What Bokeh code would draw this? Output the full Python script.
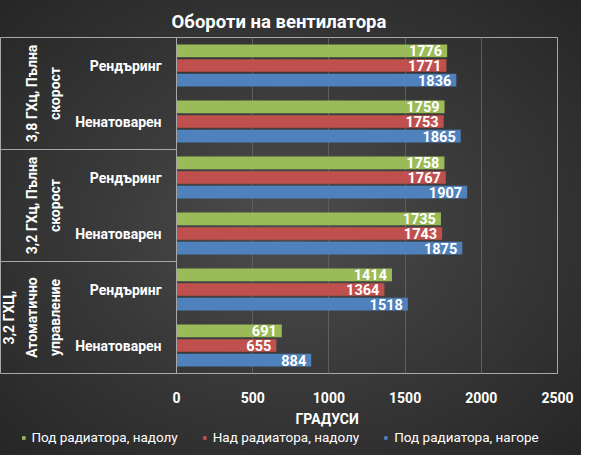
import numpy as np
from bokeh.plotting import figure
from bokeh.layouts import column
from bokeh.models import (ColumnDataSource, FactorRange, Range1d, FixedTicker, Span,
                          Legend, LegendItem, Title)
from bokeh.transform import dodge
from bokeh.core.properties import value
from bokeh.embed import file_html
from bokeh.resources import INLINE

# ---------------- data ----------------
groups = ["3,8 ГХц, Пълна скорост", "3,2 ГХц, Пълна скорост", "3,2 ГХЦ, Атоматично управление"]
group_text = ["3,8 ГХц, Пълна\nскорост", "3,2 ГХц, Пълна\nскорост", "3,2 ГХЦ,\nАтоматично\nуправление"]
loads = ["Рендъринг", "Ненатоварен"]
series = ["Под радиатора, надолу", "Над радиатора, надолу", "Под радиатора, нагоре"]
under_down = [1776, 1759, 1758, 1735, 1414, 691]
over_down = [1771, 1753, 1767, 1743, 1364, 655]
under_up = [1836, 1865, 1907, 1875, 1518, 884]
xticks = [0, 500, 1000, 1500, 2000, 2500]
x_title = "ГРАДУСИ"
chart_title = "Обороти на вентилатора"

colors = ["#9bbb59", "#c0504d", "#4f81bd"]
FONT = value("Roboto")

# ---------------- layout ----------------
W = 581
LEG_H = 26
ZERO_PX = 176
RIGHT_PAD = 24
TOP_PAD = 37
frame_w = W - RIGHT_PAD
frame_h = 336
x_end = xticks[-1]
x_start = -x_end * ZERO_PX / (frame_w - ZERO_PX)

cats = [(g, l) for g in groups for l in loads]
load_col = [l for g in groups for l in loads]
y_range = FactorRange(factors=cats[::-1], group_padding=0, range_padding=0)

src = ColumnDataSource(dict(
    cat=cats, load=load_col,
    s0=under_down, s1=over_down, s2=under_up,
    t0=[str(v) for v in under_down], t1=[str(v) for v in over_down], t2=[str(v) for v in under_up],
))
gsrc = ColumnDataSource(dict(group=groups, text=group_text))
sep_src = ColumnDataSource(dict(cat=[(g, loads[0]) for g in groups[1:]]))

p = figure(frame_width=frame_w, frame_height=frame_h, x_range=Range1d(x_start, x_end), y_range=y_range,
           output_backend="svg", toolbar_location=None, y_axis_location=None,
           min_border_left=0, min_border_right=RIGHT_PAD, min_border_top=TOP_PAD,
           min_border_bottom=0)

p.background_fill_alpha = 0
p.border_fill_alpha = 0
p.outline_line_color = "#a8a8a8"
p.outline_line_width = 1

p.xgrid.ticker = FixedTicker(ticks=xticks[1:-1])
p.xgrid.grid_line_color = "#5e5e5e"
p.ygrid.visible = False

ax = p.xaxis[0]
ax.ticker = FixedTicker(ticks=xticks)
ax.axis_line_color = None
ax.major_tick_line_color = None
ax.minor_tick_line_color = None
ax.major_label_standoff = 12
ax.major_label_text_color = "white"
ax.major_label_text_font = "Roboto"
ax.major_label_text_font_style = "bold"
ax.major_label_text_font_size = "14px"

p.title.text = chart_title
p.title.align = "center"
p.title.text_color = "white"
p.title.text_font = "Roboto"
p.title.text_font_style = "bold"
p.title.text_font_size = "18.5px"

p.add_layout(Span(location=0, dimension="height", line_color="#a8a8a8", line_width=1))

offsets = [0.262, 0.0, -0.262]
for i, c in enumerate(colors):
    p.hbar(y=dodge("cat", offsets[i], range=p.y_range), left=0, right=f"s{i}", height=0.225,
           source=src, fill_color=c, line_color=None)
    p.text(x=f"s{i}", y=dodge("cat", offsets[i], range=p.y_range), text=f"t{i}", source=src,
           x_offset=-5, text_align="right", text_baseline="middle", text_color="white",
           text_font=FONT, text_font_style="bold", text_font_size="14.5px")

# category labels
p.text(x=0, y="cat", text="load", source=src, x_offset=-15, text_align="right",
       text_baseline="middle", text_color="white", text_font=FONT, text_font_style="bold",
       text_font_size="14px")
# group labels
p.text(x=0, y="group", text="text", source=gsrc, angle=np.pi / 2, x_offset=-113,
       text_align="center", text_baseline="bottom", text_line_height=1.45, text_color="white",
       text_font=FONT, text_font_style="bold", text_font_size="14px")
# group separators in the label area
p.segment(x0=x_start, x1=0, y0=dodge("cat", 0.5, range=p.y_range), y1=dodge("cat", 0.5, range=p.y_range),
          source=sep_src, line_color="#a8a8a8", line_width=1)

p.add_layout(Title(text=x_title, align="left", offset=295, text_color="white", text_font="Roboto",
                   text_font_style="bold", text_font_size="14px", standoff=6), "below")

# ---------------- legend strip ----------------
# proxy renderers for the legend keys; their points sit outside this strip's view
lf = figure(width=W, height=LEG_H, output_backend="svg", toolbar_location=None,
            x_axis_location=None, y_axis_location=None,
            x_range=Range1d(0, 1), y_range=Range1d(0, 1),
            min_border_left=0, min_border_right=0, min_border_top=0, min_border_bottom=0)
lf.background_fill_alpha = 0
lf.border_fill_alpha = 0
lf.outline_line_color = None
lf.grid.visible = False
series_vals = [under_down, over_down, under_up]
proxies = [lf.scatter(x=v, y=v, marker="square", size=9, fill_color=c, line_color=None)
           for v, c in zip(series_vals, colors)]
legend = Legend(items=[LegendItem(label=s, renderers=[r]) for s, r in zip(series, proxies)],
                orientation="horizontal", location="top_center", label_text_color="white",
                label_text_font="Roboto", label_text_font_size="13.5px", glyph_width=9, glyph_height=9,
                background_fill_alpha=0, border_line_alpha=0, spacing=22, padding=0, margin=0,
                label_standoff=4, label_height=12)
lf.add_layout(legend)

page = column(p, lf, spacing=0)
page.styles = {"background": "radial-gradient(ellipse at 50% 50%, #4e4e4e 0%, #3a3a3a 45%, #262626 100%)"}

open("out.html", "w").write(file_html(page, INLINE))
